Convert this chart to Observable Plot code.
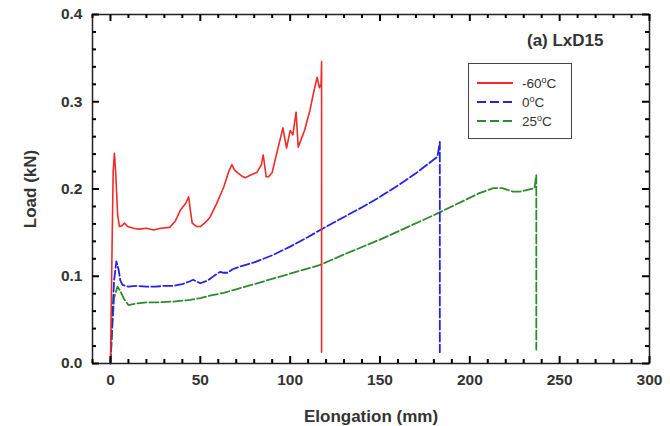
<!DOCTYPE html>
<html>
<head>
<meta charset="utf-8">
<script src="https://cdn.jsdelivr.net/npm/d3@7"></script>
<script src="https://cdn.jsdelivr.net/npm/@observablehq/plot@0.6"></script>
<style>
  html, body { margin: 0; padding: 0; background: #fff; }
  #wrap { position: relative; width: 670px; height: 426px; font-family: "Liberation Sans", Arial, sans-serif; }
  #legend { position: absolute; left: 468px; top: 63px; width: 104px; height: 76px; border: 1px solid #444; background: #fff; box-sizing: border-box; }
  .row { position: absolute; left: 0; height: 18px; display: flex; align-items: center; font-size: 13.5px; color: #333; }
  .row svg { margin-left: 8px; margin-right: 9px; }
  sup { font-size: 9px; vertical-align: 5px; line-height: 0; }
</style>
</head>
<body>
<div id="wrap"></div>
<script>
// ---- data ----
const seriesNames = ["-60°C", "0°C", "25°C"];
const seriesColors = ["#ef2b2b", "#2323e0", "#2f8a2f"];

const elongRed = [0, 0.8, 1.5, 2.2, 3, 4, 5, 6.5, 7.8, 9.5, 12.8, 16, 20, 24, 28, 33, 36, 39, 42, 43.5, 44.5, 45.5, 48, 50, 53, 55.5, 59, 63, 66, 67.6, 69, 70.5, 73, 75, 78, 81.5, 84, 85, 86.7, 88, 90, 93, 96, 97, 98, 100, 101.5, 103.3, 104.5, 106, 108, 111, 113, 115, 116.3, 117.2, 117.5, 117.5];
const loadRed  = [0, 0.12, 0.22, 0.241, 0.215, 0.17, 0.157, 0.158, 0.161, 0.157, 0.155, 0.154, 0.155, 0.153, 0.155, 0.156, 0.163, 0.176, 0.184, 0.191, 0.175, 0.161, 0.157, 0.157, 0.162, 0.168, 0.183, 0.202, 0.221, 0.228, 0.222, 0.219, 0.215, 0.213, 0.216, 0.219, 0.228, 0.239, 0.214, 0.214, 0.219, 0.245, 0.270, 0.258, 0.247, 0.267, 0.262, 0.288, 0.248, 0.256, 0.267, 0.29, 0.31, 0.328, 0.316, 0.32, 0.346, 0.013];

const elongBlue = [0, 1, 2, 3.3, 4.5, 5.5, 6.7, 10, 15, 20, 25, 30, 35, 40, 44, 46, 48, 50, 54, 58, 61, 63, 65, 68, 72, 80, 90, 100, 110, 116.7, 130, 140, 150, 160, 170, 182, 183.3, 183.3];
const loadBlue  = [0, 0.05, 0.095, 0.117, 0.108, 0.095, 0.090, 0.088, 0.089, 0.088, 0.088, 0.089, 0.089, 0.091, 0.094, 0.096, 0.094, 0.092, 0.095, 0.101, 0.105, 0.104, 0.104, 0.108, 0.111, 0.116, 0.124, 0.134, 0.145, 0.153, 0.168, 0.179, 0.191, 0.204, 0.218, 0.237, 0.254, 0.013];

const elongGreen = [0, 1, 2, 3.9, 5.5, 7.5, 10, 15, 20, 26, 35, 44.4, 50, 56, 63, 70, 80, 90, 100, 116.7, 130, 150, 165, 182, 195, 205, 213, 218, 221, 224, 228, 232, 236, 237, 237];
const loadGreen  = [0, 0.04, 0.075, 0.088, 0.083, 0.074, 0.067, 0.069, 0.070, 0.070, 0.071, 0.073, 0.075, 0.078, 0.081, 0.085, 0.091, 0.097, 0.103, 0.113, 0.125, 0.142, 0.156, 0.172, 0.185, 0.195, 0.201, 0.201, 0.199, 0.197, 0.197, 0.199, 0.201, 0.216, 0.016];

const xTickValues = [0, 50, 100, 150, 200, 250, 300];
const xMinorTicks = [-10, 10, 20, 30, 40, 60, 70, 80, 90, 110, 120, 130, 140, 160, 170, 180, 190, 210, 220, 230, 240, 260, 270, 280, 290];
const yTickValues = [0, 0.1, 0.2, 0.3, 0.4];
const yTickLabels = ["0.0", "0.1", "0.2", "0.3", "0.4"];
const yMinorTicks = [0.02, 0.04, 0.06, 0.08, 0.12, 0.14, 0.16, 0.18, 0.22, 0.24, 0.26, 0.28, 0.32, 0.34, 0.36, 0.38];
const panelTitle = "(a) LxD15";

const toRows = (xs, ys) => xs.map((x, i) => ({x, y: ys[i]}));
const red = toRows(elongRed, loadRed);
const blue = toRows(elongBlue, loadBlue);
const green = toRows(elongGreen, loadGreen);

// layout
const W = 670, H = 426, ML = 92, MR = 21, MT = 14, MB = 63;
const innerW = W - ML - MR, innerH = H - MT - MB;
const MAJ = 7, MIN = 4;
const tickStyle = {stroke: "#000", strokeWidth: 2};
// inward ticks: full-frame rules trimmed with insets
const xTicks = (values, len, side) => Plot.ruleX(values, {x: d => d, ...tickStyle,
  ...(side === "bottom" ? {insetTop: innerH - len} : {insetBottom: innerH - len})});
const yTicks = (values, len, side) => Plot.ruleY(values, {y: d => d, ...tickStyle,
  ...(side === "left" ? {insetRight: innerW - len} : {insetLeft: innerW - len})});

const chart = Plot.plot({
  width: W,
  height: H,
  marginLeft: ML,
  marginRight: MR,
  marginTop: MT,
  marginBottom: MB,
  x: {domain: [-10, 300]},
  y: {domain: [0, 0.4]},
  style: {fontFamily: "'Liberation Sans', Arial, sans-serif", fontSize: "15.5px", fontWeight: "bold", color: "#333", background: "#fff"},
  marks: [
    // tick labels + axis titles
    Plot.axisX(xTickValues, {anchor: "bottom", tickSize: 0, tickPadding: 10, tickFormat: d3.format("d"), label: null}),
    Plot.axisY(yTickValues, {anchor: "left", tickSize: 0, tickPadding: 10, tickFormat: (d, i) => yTickLabels[i], label: null}),
    Plot.axisX({anchor: "bottom", ticks: [], label: "Elongation (mm)", labelAnchor: "center", labelOffset: 58, labelArrow: "none", fontSize: 17}),
    Plot.axisY({anchor: "left", ticks: [], label: "Load (kN)", labelAnchor: "center", labelOffset: 69, labelArrow: "none", fontSize: 17}),
    // curves
    Plot.line(green, {x: "x", y: "y", stroke: seriesColors[2], strokeWidth: 1.8, strokeDasharray: "9,3"}),
    Plot.line(blue, {x: "x", y: "y", stroke: seriesColors[1], strokeWidth: 1.8, strokeDasharray: "9,3"}),
    Plot.line(red, {x: "x", y: "y", stroke: seriesColors[0], strokeWidth: 1.6}),
    Plot.frame({stroke: "#222", strokeWidth: 1.5}),
    Plot.text([panelTitle], {frameAnchor: "top-right", dx: -46, dy: 26, textAnchor: "end", lineAnchor: "middle",
      fontSize: 17, fontWeight: "bold", fill: "#333"}),
    // inward ticks on all four sides, drawn last
    xTicks(xTickValues, MAJ, "bottom"), xTicks(xMinorTicks, MIN, "bottom"),
    xTicks(xTickValues, MAJ, "top"), xTicks(xMinorTicks, MIN, "top"),
    yTicks(yTickValues, MAJ, "left"), yTicks(yMinorTicks, MIN, "left"),
    yTicks(yTickValues, MAJ, "right"), yTicks(yMinorTicks, MIN, "right")
  ]
});

const wrap = document.getElementById("wrap");
wrap.appendChild(chart);

// legend overlay
const legend = document.createElement("div");
legend.id = "legend";
const dashes = ["none", "9,4", "9,4"];
const rowTops = [10, 29, 48];
seriesNames.forEach((name, i) => {
  const row = document.createElement("div");
  row.className = "row";
  row.style.top = rowTops[i] + "px";
  const [num] = name.split("°");
  row.innerHTML = `<svg width="36" height="6"><line x1="0" y1="3" x2="36" y2="3" stroke="${seriesColors[i]}" stroke-width="2.2" stroke-dasharray="${dashes[i]}"/></svg><span>${num}<sup>o</sup>C</span>`;
  legend.appendChild(row);
});
wrap.appendChild(legend);
</script>
</body>
</html>
